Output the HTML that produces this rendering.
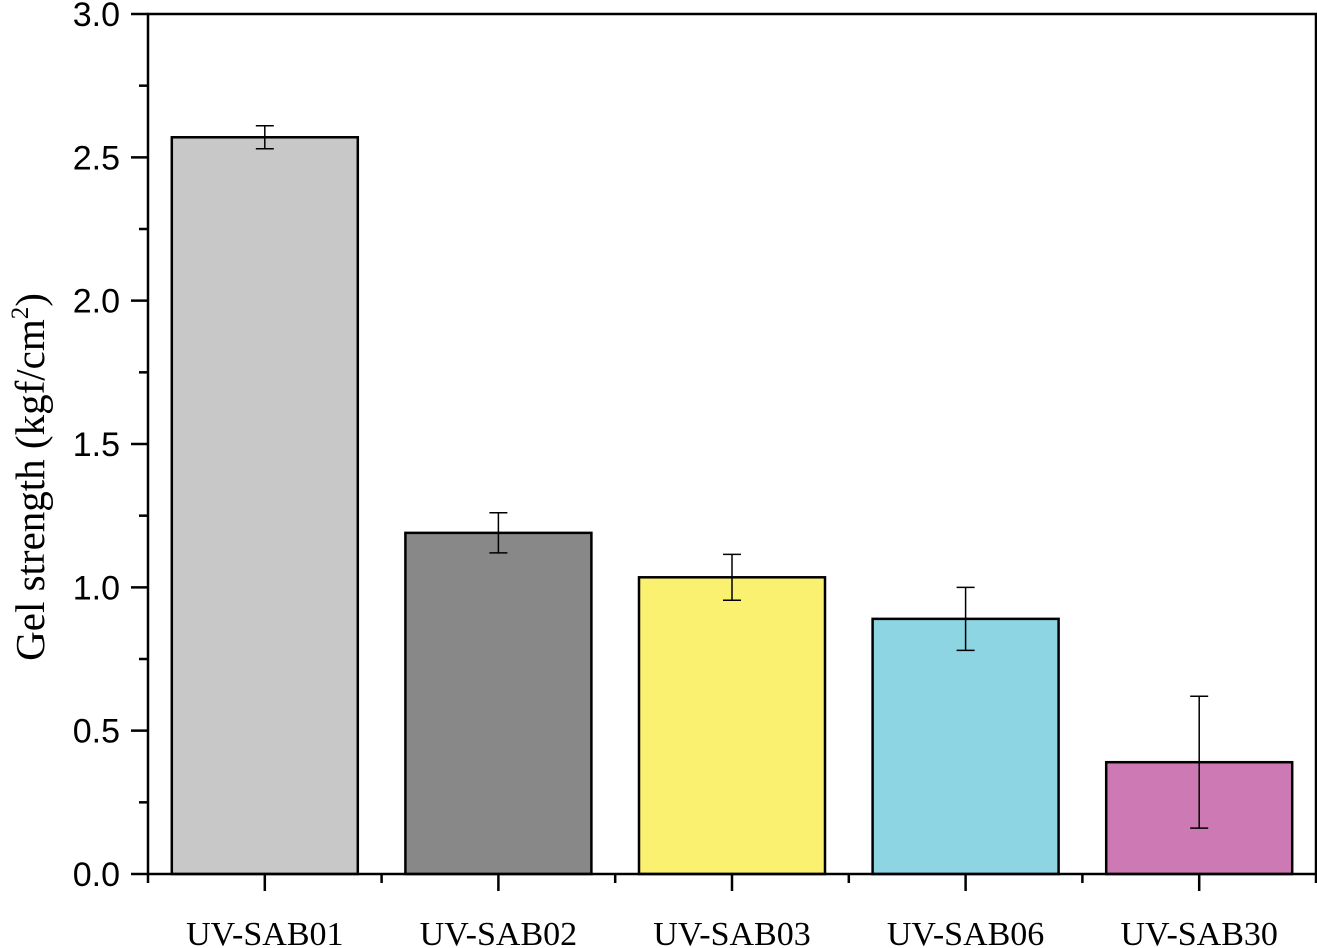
<!DOCTYPE html>
<html><head><meta charset="utf-8"><style>body{margin:0;background:#fff}svg{display:block}</style></head>
<body>
<svg id="chart" width="1317" height="948" xmlns="http://www.w3.org/2000/svg"></svg>
<script>
const categories = ["UV-SAB01","UV-SAB02","UV-SAB03","UV-SAB06","UV-SAB30"];
const values = [2.57, 1.19, 1.035, 0.89, 0.39];
const errors = [0.04, 0.07, 0.08, 0.11, 0.23];
const colors = ["#c8c8c8","#888888","#fbf171","#8dd5e3","#cd79b3"];
const yTicks = [0.0,0.5,1.0,1.5,2.0,2.5,3.0];
const yTickLabels = ["0.0","0.5","1.0","1.5","2.0","2.5","3.0"];

const svg = document.getElementById('chart');
const NS = "http://www.w3.org/2000/svg";
const L=148, R=1316, T=14, B=874, yMax=3.0;
const step=(R-L)/categories.length;
const yS=v=>B-(v/yMax)*(B-T);
const xC=i=>L+step*(i+0.5);
function mk(tag, attrs, text){const e=document.createElementNS(NS,tag);for(const k in attrs)e.setAttribute(k,attrs[k]);if(text!==undefined)e.textContent=text;svg.appendChild(e);return e;}

categories.forEach((c,i)=>{
  const w=186, x=xC(i)-w/2, y=yS(values[i]);
  const b=mk('rect',{x:x,y:y,width:w,height:B-y,fill:colors[i],stroke:'#000','stroke-width':2.5});
  
  
  const yt=yS(values[i]+errors[i]), yb=yS(values[i]-errors[i]), cx=xC(i);
  const g=mk('path',{d:`M${cx} ${yt}V${yb}M${cx-9} ${yt}H${cx+9}M${cx-9} ${yb}H${cx+9}`,stroke:'#000','stroke-width':1.5,fill:'none'});
  
  
  const tk=mk('line',{x1:cx,y1:B,x2:cx,y2:B+17,stroke:'#000','stroke-width':2.5});
  
  
  const lb=mk('text',{x:cx,y:945,'text-anchor':'middle','font-family':'Liberation Serif, serif','font-size':34},c);
  
  
});
for(let i=0;i<=categories.length;i++){
  const x=L+step*i;
  const m=mk('line',{x1:x,y1:B,x2:x,y2:B+9,stroke:'#000','stroke-width':2.5});
  
  
}
yTicks.forEach((v,i)=>{
  const y=yS(v);
  const t=mk('line',{x1:L-17,y1:y,x2:L,y2:y,stroke:'#000','stroke-width':2.5});
  
  
  const lb=mk('text',{x:L-28,y:y+12,'text-anchor':'end','font-family':'Liberation Sans, sans-serif','font-size':34},yTickLabels[i]);
  
  
  if(i<yTicks.length-1){
    const ym=yS(v+0.25);
    const m=mk('line',{x1:L-9,y1:ym,x2:L,y2:ym,stroke:'#000','stroke-width':2.5});
    
    
  }
});
const frame=mk('rect',{x:L,y:T,width:R-L,height:B-T,fill:'none',stroke:'#000','stroke-width':2.5});


const yt=mk('text',{transform:'translate(44,477) rotate(-90)','text-anchor':'middle','font-family':'Liberation Serif, serif','font-size':41});
yt.innerHTML='Gel strength (kgf/cm<tspan dy="-16" font-size="25">2</tspan><tspan dy="16">)</tspan>';


</script>
</body></html>
